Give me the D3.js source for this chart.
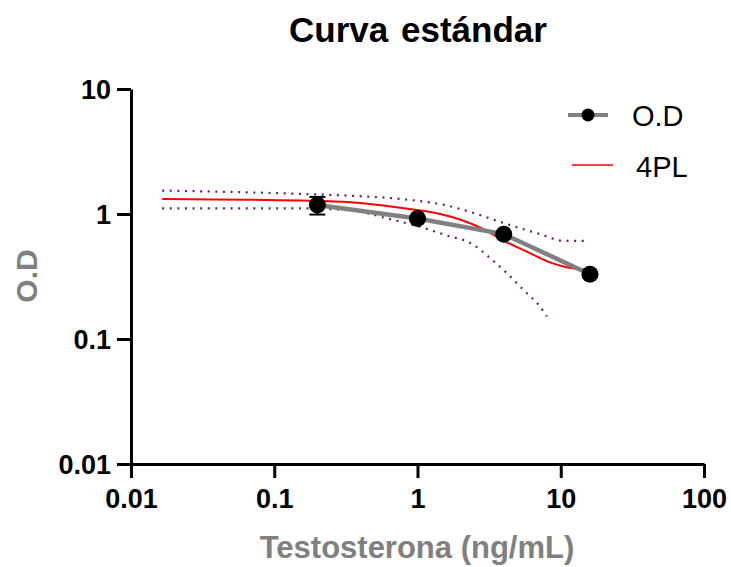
<!DOCTYPE html>
<html>
<head>
<meta charset="utf-8">
<script src="https://cdn.jsdelivr.net/npm/d3@7"></script>
<style>
    body { margin: 0; background: #fff; }
    svg text { font-family: "Liberation Sans", Arial, sans-serif; }
</style>
</head>
<body>
<svg id="graphe" width="731" height="567"></svg>
<script>
// DONNÉES
const concentrations = [0.2, 1, 4, 16]
const densitesOptiques = [1.18, 0.92, 0.69, 0.33]
const ecartsTypes = [0.19, 0.02, 0.02, 0.01]

// Courbe 4PL
const courbe4plX = [0.0165, 0.152, 0.339, 0.757, 1.44, 2.0, 2.87, 4.0, 5.8, 8.4, 11.0, 13.7, 16]
const courbe4plY = [1.32, 1.28, 1.24, 1.12, 1.0, 0.90, 0.76, 0.61, 0.50, 0.41, 0.375, 0.362, 0.357]

// Bandes de confiance en pointillés
const bandeHauteX = [0.0165, 0.147, 0.339, 0.757, 1.6, 2.46, 4.21, 7.18, 10.4, 15.2]
const bandeHauteY = [1.54, 1.45, 1.40, 1.32, 1.17, 1.02, 0.83, 0.69, 0.61, 0.61]
const bandeBasseX = [0.0165, 0.147, 0.339, 0.645, 1.0, 1.56, 2.46, 3.22, 4.21, 5.49, 7.18, 8.0]
const bandeBasseY = [1.11, 1.11, 1.07, 0.91, 0.80, 0.68, 0.567, 0.443, 0.336, 0.247, 0.181, 0.152]

// Graduations
const graduationsX = [0.01, 0.1, 1, 10, 100]
const graduationsY = [0.01, 0.1, 1, 10]
const etiquettesX = ["0.01", "0.1", "1", "10", "100"]
const etiquettesY = ["0.01", "0.1", "1", "10"]

const titre = "Curva estándar"
const titreAxeX = "Testosterona (ng/mL)"
const titreAxeY = "O.D"
const legendes = ["O.D", "4PL"]

// DESSIN
const svg = d3.select("#graphe")

const echelleX = d3.scaleLog().domain([0.01, 100]).range([131, 704])
const echelleY = d3.scaleLog().domain([0.01, 10]).range([464, 89])

// Titre
svg.append("text")
    .attr("x", 418)
    .attr("y", 42)
    .attr("text-anchor", "middle")
    .style("font-size", "35px")
    .style("font-weight", "bold")
    .style("word-spacing", "3px")
    .text(titre)

// Axes
const axeX = svg.append("g")
    .attr("transform", "translate(0," + echelleY(0.01) + ")")
    .call(d3.axisBottom(echelleX).tickValues(graduationsX).tickSize(14).tickSizeOuter(0)
        .tickFormat((d, i) => etiquettesX[i]).tickPadding(11))
const axeY = svg.append("g")
    .attr("transform", "translate(" + echelleX(0.01) + ",0)")
    .call(d3.axisLeft(echelleY).tickValues(graduationsY).tickSize(14).tickSizeOuter(0)
        .tickFormat((d, i) => etiquettesY[i]).tickPadding(6))

for (const axe of [axeX, axeY]) {
    axe.select(".domain").attr("stroke", "#000").attr("stroke-width", 3)
    axe.selectAll(".tick line").attr("stroke", "#000").attr("stroke-width", 3)
    axe.selectAll(".tick text")
        .attr("fill", "#000")
        .style("font-size", "27px")
        .style("font-weight", "bold")
        .style("font-family", "'Liberation Sans', Arial, sans-serif")
}
axeY.selectAll(".tick text").attr("dy", "0.36em")

// Titres des axes
svg.append("text")
    .attr("x", 417)
    .attr("y", 558)
    .attr("text-anchor", "middle")
    .attr("fill", "#808080")
    .style("font-size", "31px")
    .style("font-weight", "bold")
    .text(titreAxeX)
svg.append("text")
    .attr("transform", "translate(37,276) rotate(-90)")
    .attr("text-anchor", "middle")
    .attr("fill", "#808080")
    .style("font-size", "30px")
    .style("font-weight", "bold")
    .text(titreAxeY)

// Bandes en pointillés
const ligneCourbe = d3.line()
    .x(d => echelleX(d[0]))
    .y(d => echelleY(d[1]))
    .curve(d3.curveMonotoneX)

svg.append("path")
    .datum(d3.zip(bandeHauteX, bandeHauteY))
    .attr("d", ligneCourbe)
    .attr("fill", "none")
    .attr("stroke", "#5e2466")
    .attr("stroke-width", 2.2)
    .attr("stroke-dasharray", "2,5.6")
svg.append("path")
    .datum(d3.zip(bandeBasseX, bandeBasseY))
    .attr("d", ligneCourbe)
    .attr("fill", "none")
    .attr("stroke", "#5e2466")
    .attr("stroke-width", 2.2)
    .attr("stroke-dasharray", "2,5.6")

// Courbe 4PL
svg.append("path")
    .datum(d3.zip(courbe4plX, courbe4plY))
    .attr("d", ligneCourbe)
    .attr("fill", "none")
    .attr("stroke", "#ff0000")
    .attr("stroke-width", 2)

// Ligne grise reliant les points
const points = d3.zip(concentrations, densitesOptiques, ecartsTypes)
svg.append("path")
    .datum(points)
    .attr("d", d3.line().x(d => echelleX(d[0])).y(d => echelleY(d[1])))
    .attr("fill", "none")
    .attr("stroke", "#808080")
    .attr("stroke-width", 4.5)

// Barres d'erreur
const barres = svg.append("g")
barres.selectAll("line.verticale")
    .data(points)
    .join("line")
    .attr("class", "verticale")
    .attr("x1", d => echelleX(d[0]))
    .attr("x2", d => echelleX(d[0]))
    .attr("y1", d => echelleY(d[1] + d[2]))
    .attr("y2", d => echelleY(d[1] - d[2]))
    .attr("stroke", "#000")
    .attr("stroke-width", 2)
barres.selectAll("line.chapeauHaut")
    .data(points)
    .join("line")
    .attr("class", "chapeauHaut")
    .attr("x1", d => echelleX(d[0]) - 8)
    .attr("x2", d => echelleX(d[0]) + 8)
    .attr("y1", d => echelleY(d[1] + d[2]))
    .attr("y2", d => echelleY(d[1] + d[2]))
    .attr("stroke", "#000")
    .attr("stroke-width", 2)
barres.selectAll("line.chapeauBas")
    .data(points)
    .join("line")
    .attr("class", "chapeauBas")
    .attr("x1", d => echelleX(d[0]) - 8)
    .attr("x2", d => echelleX(d[0]) + 8)
    .attr("y1", d => echelleY(d[1] - d[2]))
    .attr("y2", d => echelleY(d[1] - d[2]))
    .attr("stroke", "#000")
    .attr("stroke-width", 2)

// Points
svg.append("g")
    .selectAll("circle")
    .data(points)
    .join("circle")
    .attr("cx", d => echelleX(d[0]))
    .attr("cy", d => echelleY(d[1]))
    .attr("r", 8.5)
    .attr("fill", "#000")

// Légende
svg.append("line")
    .attr("x1", 568).attr("x2", 608)
    .attr("y1", 115).attr("y2", 115)
    .attr("stroke", "#808080")
    .attr("stroke-width", 4)
svg.append("circle")
    .attr("cx", 588).attr("cy", 115)
    .attr("r", 6.5)
    .attr("fill", "#000")
svg.append("text")
    .attr("x", 632).attr("y", 126)
    .style("font-size", "29px")
    .text(legendes[0])
svg.append("line")
    .attr("x1", 572).attr("x2", 613)
    .attr("y1", 165).attr("y2", 165)
    .attr("stroke", "#ff0000")
    .attr("stroke-width", 1.5)
svg.append("text")
    .attr("x", 636).attr("y", 177)
    .style("font-size", "29px")
    .text(legendes[1])
</script>
</body>
</html>
